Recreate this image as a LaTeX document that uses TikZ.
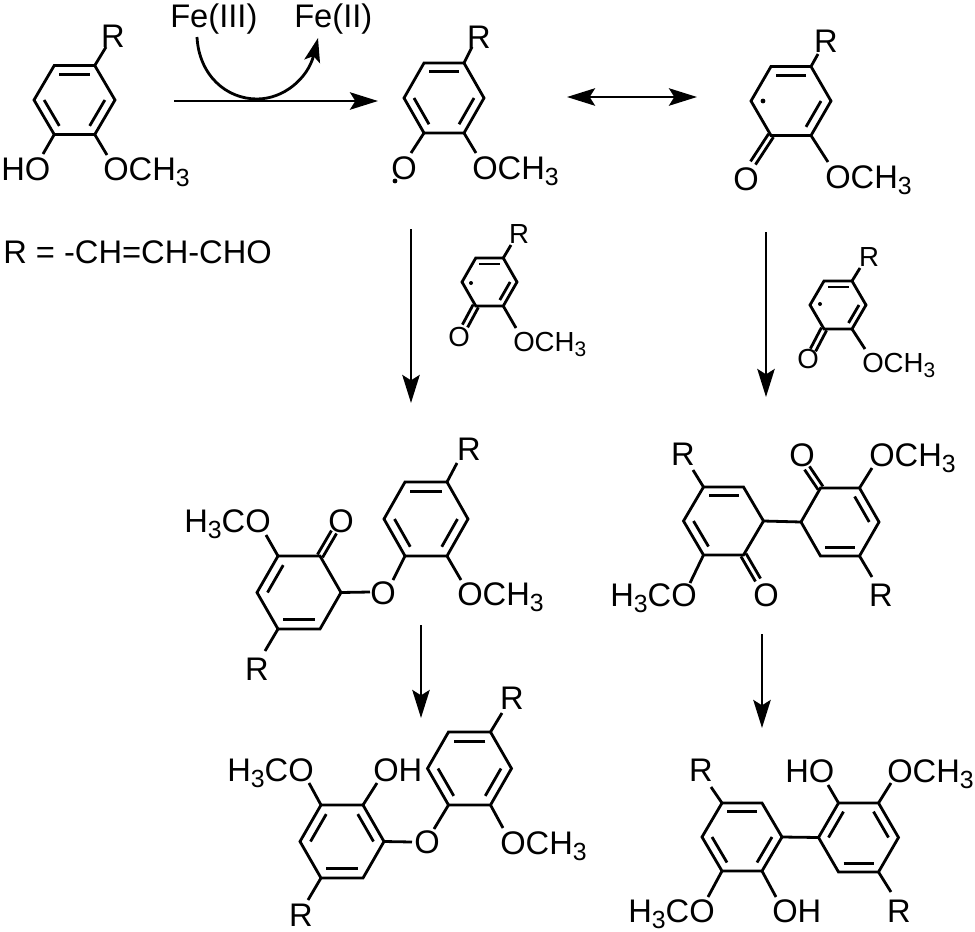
\documentclass[tikz,border=0pt]{standalone}
\usepackage{fontspec}
\setmainfont{Liberation Sans}
\usetikzlibrary{calc}
\usetikzlibrary{arrows.meta}

\tikzset{
    bond/.style={line width=2.1pt},
    rxn/.style={line width=2.1pt, -{Stealth[length=21pt,width=13pt,inset=4pt]}},
    rxnboth/.style={line width=2.1pt, {Stealth[length=21pt,width=13pt,inset=4pt]}-{Stealth[length=21pt,width=13pt,inset=4pt]}},
    atom/.style={font=\fontsize{24.5}{24.5}\selectfont, inner sep=0pt, text height=17.5pt, text depth=0pt},
    atomsmall/.style={font=\fontsize{20.7}{20.7}\selectfont, inner sep=0pt, text height=14.8pt, text depth=0pt},
    radical/.style={circle, fill=black, inner sep=0pt, minimum size=3.6pt}
}

% subscript three
\newcommand{\subthree}{\raisebox{-.18em}{\scalebox{.76}{3}}}
% hexagon: name, centre x, centre y, half width, half height
\newcommand{\hexring}[5]{
    \coordinate (#1c) at (#2,#3);
    \coordinate (#11) at ({#2+#4},#3);
    \coordinate (#12) at ({#2+#4/2},{#3-#5});
    \coordinate (#13) at ({#2-#4/2},{#3-#5});
    \coordinate (#14) at ({#2-#4},#3);
    \coordinate (#15) at ({#2-#4/2},{#3+#5});
    \coordinate (#16) at ({#2+#4/2},{#3+#5});
    \draw[bond] (#11) -- (#12) -- (#13) -- (#14) -- (#15) -- (#16) -- cycle;
}
% inner line of a ring double bond
\newcommand{\ringdbl}[3]{
    \draw[bond] ($(#1#2)!.25!(#1c)$) -- ($(#1#3)!.25!(#1c)$);
}
% bond from a ring atom to a named free end
\newcommand{\bondto}[3]{
    \coordinate (#3) at (#2);
    \draw[bond] (#1) -- (#3);
}
% C=O double bond
\newcommand{\dblto}[3]{
    \coordinate (#3) at (#2);
    \draw[bond] ($(#1)!2.2pt!90:(#3)$) -- ($(#3)!2.2pt!-90:(#1)$);
    \draw[bond] ($(#1)!2.2pt!-90:(#3)$) -- ($(#3)!2.2pt!90:(#1)$);
}

\begin{document}
\begin{tikzpicture}[x=0.75pt, y=-0.75pt]
    \useasboundingbox (0,0) rectangle (975,932);

    % Starting phenol
    \hexring{a}{74.5}{100}{40.5}{34.5}
    \ringdbl{a}{2}{3} \ringdbl{a}{4}{5} \ringdbl{a}{1}{6}
    \bondto{a2}{106,47}{ar}
    \bondto{a5}{43,154}{aho}
    \bondto{a6}{107,155}{aome}
    \node[atom] (r1) at (113,36) {R};
    \node[atom, anchor=west] (ho1) at (1,169) {HO};
    \node[atom, anchor=west] (och1) at (103,169) {OCH\subthree};
    \node[atom, anchor=west] (rdef) at (3,252) {R = -CH=CH-CHO};

    % Iron couple on the first arrow
    \node[atom, anchor=west] (fe3) at (170,16) {Fe(III)};
    \node[atom, anchor=west] (fe2) at (294,16) {Fe(II)};
    \coordinate (cva) at (197,37);
    \coordinate (cvm) at (257,99);
    \coordinate (cvb) at (318,38);
    \draw[line width=2.1pt, -{Stealth[length=18pt,width=12pt,inset=4pt]}] (cva) .. controls (199,75) and (226,99) .. (cvm) .. controls (284,99) and (308,78) .. (cvb);

    % Phenoxy radical
    \hexring{b}{444}{98}{40}{35}
    \ringdbl{b}{2}{3} \ringdbl{b}{4}{5} \ringdbl{b}{1}{6}
    \bondto{b2}{472,47}{br}
    \bondto{b5}{411,153}{bo}
    \bondto{b6}{476,153}{bome}
    \node[atom] (r2) at (479,37) {R};
    \node[atom] (o2) at (404,168) {O};
    \node[radical] (dot2) at (395,181) {};
    \node[atom, anchor=west] (och2) at (472,168) {OCH\subthree};

    % Carbon radical
    \hexring{c}{791}{101}{40}{34.5}
    \ringdbl{c}{2}{3} \ringdbl{c}{1}{6}
    \bondto{c2}{818,54}{cr}
    \bondto{c6}{828,162}{come}
    \dblto{c5}{753,163}{co}
    \node[atom] (r3) at (826,41) {R};
    \node[atom] (o3) at (746,179) {O};
    \node[radical] (dot3) at (763,101) {};
    \node[atom, anchor=west] (och3) at (825,177) {OCH\subthree};

    % Small radical over the left arrow
    \hexring{d}{489.5}{282}{27.5}{24}
    \ringdbl{d}{2}{3} \ringdbl{d}{1}{6}
    \bondto{d2}{511,245}{dr}
    \bondto{d6}{516,328}{dome}
    \dblto{d5}{465,326}{dco}
    \node[atomsmall] (r4) at (519,234) {R};
    \node[atomsmall] (o4) at (459,337) {O};
    \node[radical, minimum size=3pt] (dot4) at (471,283) {};
    \node[atomsmall, anchor=west] (och4) at (513,342) {OCH\subthree};

    % Small radical over the right arrow
    \hexring{e}{838}{305}{28}{24}
    \ringdbl{e}{2}{3} \ringdbl{e}{1}{6}
    \bondto{e2}{860,268}{er}
    \bondto{e6}{865,349}{eome}
    \dblto{e5}{813,350}{eco}
    \node[atomsmall] (r5) at (869,257) {R};
    \node[atomsmall] (o5) at (808,359) {O};
    \node[radical, minimum size=3pt] (dot5) at (820,304) {};
    \node[atomsmall, anchor=west] (och5) at (862,363) {OCH\subthree};

    % Ether dimer
    \hexring{f}{426}{519}{42}{37}
    \ringdbl{f}{2}{3} \ringdbl{f}{4}{5} \ringdbl{f}{1}{6}
    \hexring{g}{299}{592.5}{42}{36.5}
    \ringdbl{g}{3}{4} \ringdbl{g}{5}{6}
    \bondto{f2}{457,463}{fr}
    \bondto{f5}{393,580}{fo}
    \bondto{f6}{461,580}{fome}
    \bondto{g1}{370,592}{go}
    \bondto{g3}{266,535}{gome}
    \bondto{g5}{265,651}{gr}
    \dblto{g2}{334,532}{gco}
    \node[atom] (r6) at (469,449) {R};
    \node[atom] (o6) at (383,593) {O};
    \node[atom, anchor=west] (och6) at (457,594) {OCH\subthree};
    \node[atom, anchor=west] (och7) at (184,521) {H\subthree CO};
    \node[atom] (o7) at (341,521) {O};
    \node[atom] (r7) at (257,669) {R};

    % Biphenyl dimer
    \hexring{h}{723.5}{521}{40}{34}
    \ringdbl{h}{2}{3} \ringdbl{h}{4}{5}
    \hexring{i}{840}{522}{39}{34}
    \ringdbl{i}{1}{2} \ringdbl{i}{5}{6}
    \draw[bond] (h1) -- (i4);
    \bondto{h3}{693,470}{hr}
    \bondto{h5}{690,583}{home}
    \dblto{h6}{758,580}{hco}
    \dblto{i3}{807,468}{ico}
    \bondto{i2}{872,468}{iome}
    \bondto{i6}{872,577}{ir}
    \node[atom] (r8) at (683,454) {R};
    \node[atom, anchor=west] (och8) at (610,595) {H\subthree CO};
    \node[atom] (o8) at (766,595) {O};
    \node[atom] (o9) at (802,455) {O};
    \node[atom, anchor=west] (och9) at (869,455) {OCH\subthree};
    \node[atom] (r9) at (881,595) {R};

    % Ether product
    \hexring{j}{469.5}{768.5}{42}{36.5}
    \ringdbl{j}{2}{3} \ringdbl{j}{4}{5} \ringdbl{j}{1}{6}
    \hexring{k}{342}{841.5}{42}{36.5}
    \ringdbl{k}{3}{4} \ringdbl{k}{1}{2} \ringdbl{k}{5}{6}
    \bondto{j2}{502,713}{jr}
    \bondto{j5}{434,829}{jo}
    \bondto{j6}{503,828}{jome}
    \bondto{k1}{412,842}{ko}
    \bondto{k3}{309,783}{kome}
    \bondto{k2}{377,783}{koh}
    \bondto{k5}{308,900}{kr}
    \node[atom] (r10) at (512,698) {R};
    \node[atom] (o10) at (427,842) {O};
    \node[atom, anchor=west] (och10) at (500,843) {OCH\subthree};
    \node[atom, anchor=west] (och11) at (227,770) {H\subthree CO};
    \node[atom, anchor=west] (oh1) at (373,770) {OH};
    \node[atom] (r11) at (301,915) {R};

    % Biphenyl product
    \hexring{m}{742}{837}{40}{34}
    \ringdbl{m}{2}{3} \ringdbl{m}{4}{5} \ringdbl{m}{1}{6}
    \hexring{n}{858.5}{837.5}{40}{34.5}
    \ringdbl{n}{3}{4} \ringdbl{n}{1}{2} \ringdbl{n}{5}{6}
    \draw[bond] (m1) -- (n4);
    \bondto{m3}{711,787}{mr}
    \bondto{m5}{708,897}{mome}
    \bondto{m6}{776,897}{moh}
    \bondto{n3}{828,785}{noh}
    \bondto{n2}{891,783}{nome}
    \bondto{n6}{891,892}{nr}
    \node[atom] (r12) at (701,770) {R};
    \node[atom, anchor=west] (och12) at (628,911) {H\subthree CO};
    \node[atom, anchor=west] (oh2) at (772,911) {OH};
    \node[atom, anchor=west] (ho2) at (785,771) {HO};
    \node[atom, anchor=west] (och13) at (887,771) {OCH\subthree};
    \node[atom] (r13) at (899,911) {R};

    % Reaction arrows
    \foreach \name/\xa/\ya/\xb/\yb in {p/174/101/378/101, q/411/229/411/403, s/766/232/766/397, t/421/625/421/718, u/762/634/762/728}{
        \coordinate (\name a) at (\xa,\ya);
        \coordinate (\name b) at (\xb,\yb);
        \draw[rxn] (\name a) -- (\name b);
    }
    \coordinate (resa) at (567,97);
    \coordinate (resb) at (697,97);
    \draw[rxnboth] (resa) -- (resb);
\end{tikzpicture}
\end{document}
